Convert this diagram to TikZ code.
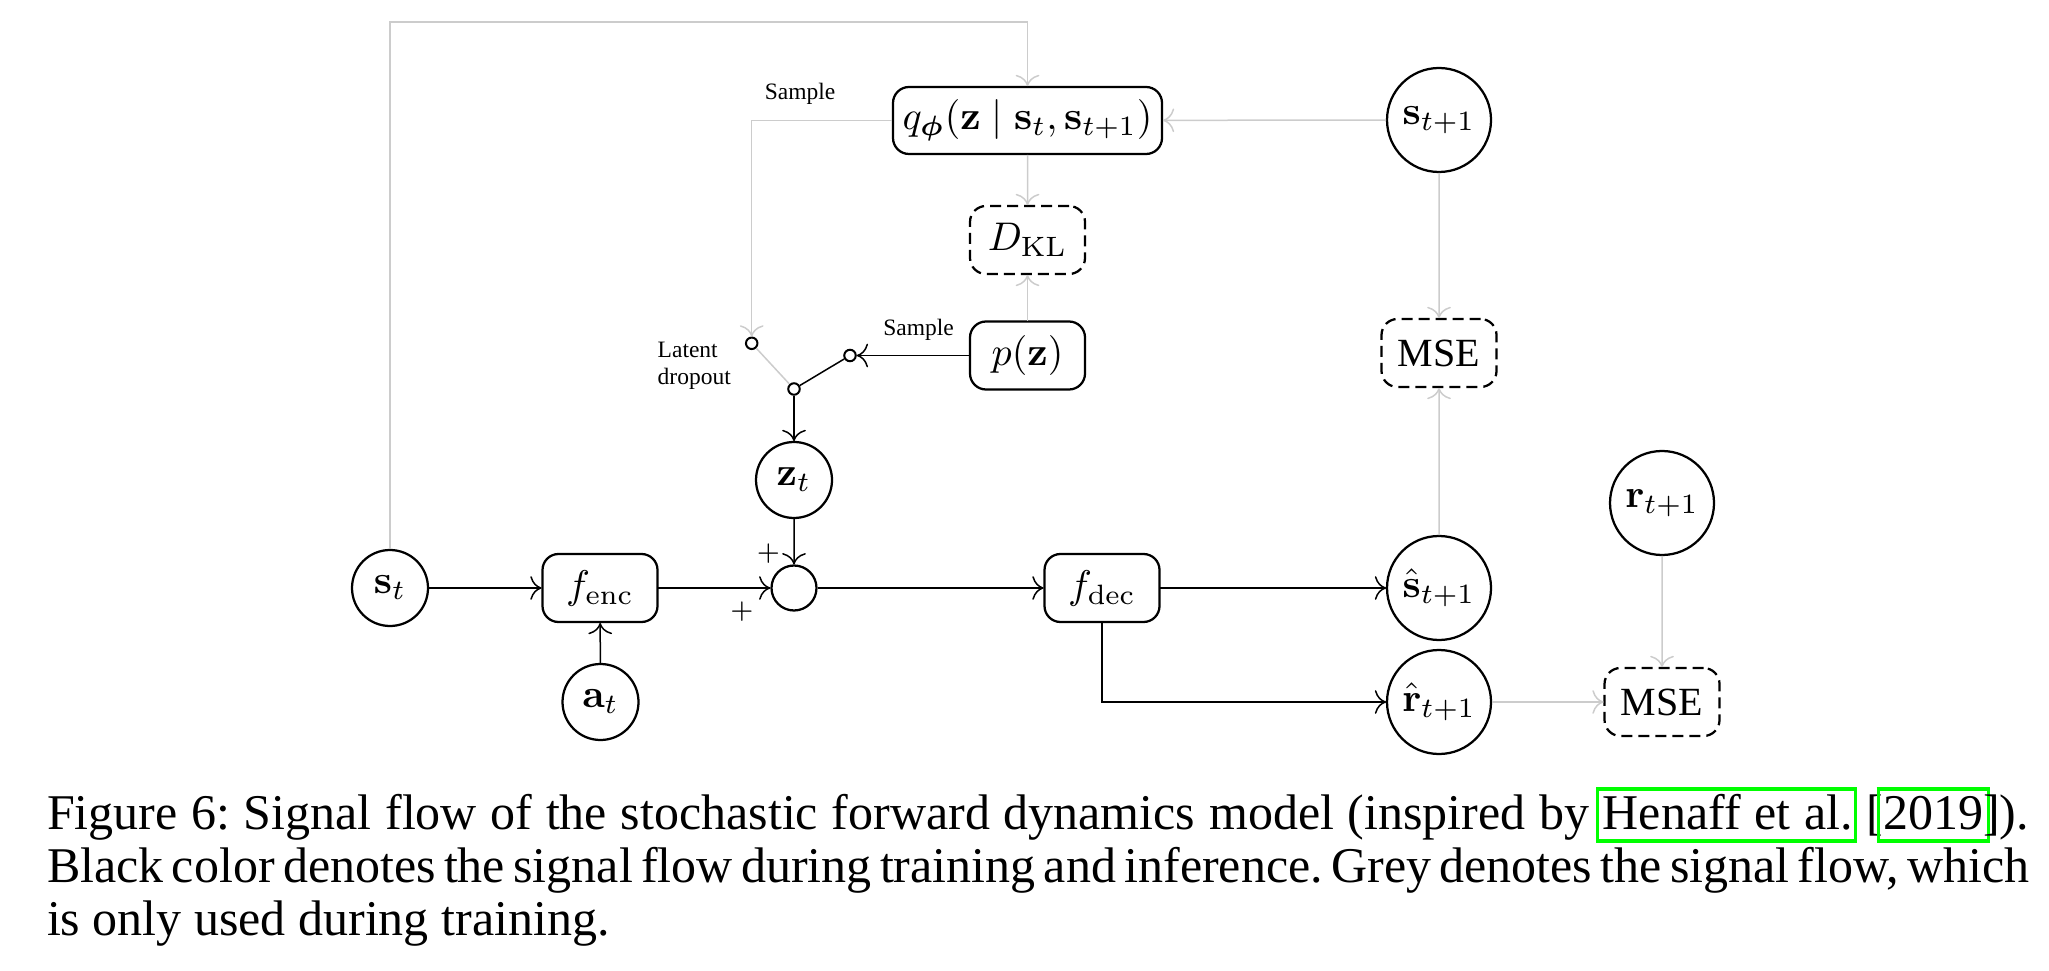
\RequirePackage{fix-cm}
\documentclass[tikz,border=0pt]{standalone}
\usepackage{amsmath}
\usepackage[no-math]{fontspec}
\setmainfont{Liberation Serif}
\usetikzlibrary{arrows.meta}
\definecolor{sig}{gray}{0.8}
\definecolor{linkgreen}{rgb}{0,1,0}
\newcommand\diafont{\fontsize{10}{12}\selectfont}
\newcommand\labfont{\fontsize{4.7}{5.6}\selectfont}
\newcommand\capfont{\fontsize{10}{10.7}\selectfont\frenchspacing\spaceskip=0.25em plus 0.4em minus 0.15em\relax}
\newcommand\lnk[1]{\leavevmode\rlap{\kern-1.33pt\textcolor{linkgreen}{\fboxsep=0pt\fboxrule=0.65pt\fbox{\rule[-2.075pt]{0pt}{9.75pt}\hphantom{#1}\kern1.36pt}}}#1}
\tikzset{
  conn/.style={line width=0.3pt},
  blk/.style={conn, draw=black, ->},
  gry/.style={conn, draw=sig, ->},
  statec/.style={circle, draw, line width=0.45pt, inner sep=0pt, scale=0.8, minimum size=19pt, font=\diafont},
  bigstate/.style={statec, minimum size=26pt},
  sumc/.style={circle, draw, line width=0.45pt, inner sep=0pt, minimum size=9pt},
  blockbox/.style={rectangle, rounded corners=3.2pt, draw, line width=0.45pt, scale=0.8, minimum width=28.75pt, minimum height=17pt, inner sep=1.2pt, font=\diafont},
  lossbox/.style={blockbox, dash pattern=on 2.2pt off 1.2pt},
  swc/.style={circle, draw, line width=0.4pt, inner sep=0pt, minimum size=2.3pt},
  lbl/.style={font=\labfont, inner sep=0pt},
  captext/.style={font=\capfont, inner sep=0pt, anchor=base west},
}
\begin{document}
\begin{tikzpicture}[x=0.2pt, y=-0.2pt]
\useasboundingbox (0,0) rectangle (2049,971);
% nodes
\node[statec] (st) at (390,588) {$\mathbf{s}_t$};
\node[blockbox] (fenc) at (600,588) {$f_{\mathrm{enc}}$};
\node[statec] (at) at (600.5,702) {$\mathbf{a}_t$};
\node[sumc] (sum) at (794,588) {};
\node[statec] (zt) at (794,480) {$\mathbf{z}_t$};
\node[blockbox] (fdec) at (1102,588) {$f_{\mathrm{dec}}$};
\node[bigstate] (shat) at (1439,588) {$\hat{\mathbf{s}}_{t+1}$};
\node[bigstate] (rhat) at (1439,702) {$\hat{\mathbf{r}}_{t+1}$};
\node[lossbox] (mse2) at (1662,702) {MSE};
\node[bigstate] (rt1) at (1662,503) {$\mathbf{r}_{t+1}$};
\node[lossbox] (mse1) at (1439,353) {MSE};
\node[bigstate] (st1) at (1439,120) {$\mathbf{s}_{t+1}$};
\node[blockbox, minimum width=67.25pt, minimum height=16.75pt] (q) at (1027.5,120.5) {$q_{\boldsymbol{\phi}}(\mathbf{z}\mid\mathbf{s}_t,\mathbf{s}_{t+1})$};
\node[lossbox] (dkl) at (1027.5,240) {$D_{\mathrm{KL}}$};
\node[blockbox] (pz) at (1027.5,355.5) {$p(\mathbf{z})$};
\node[swc] (sw1) at (751.7,343.3) {};
\node[swc] (piv) at (794,389) {};
\node[swc] (sw2) at (850,355.5) {};
\coordinate (topc) at (1027.5,22);
% labels
\node[lbl] (samp1) at (800,94) {Sample};
\node[lbl] (samp2) at (918.5,330) {Sample};
\node[lbl, anchor=base west] (lat1) at (656.7,358) {Latent};
\node[lbl, anchor=base west] (lat2) at (656.7,385) {dropout};
\node[lbl] (plus1) at (768.5,554) {$+$};
\node[lbl] (plus2) at (742,612) {$+$};
% black connectors
\draw[blk] (st) -- (fenc);
\draw[blk] (at) -- (fenc);
\draw[blk] (fenc) -- (sum);
\draw[blk] (zt) -- (sum);
\draw[blk] (sum) -- (fdec);
\draw[blk] (fdec) -- (shat);
\draw[blk] (fdec.south) |- (rhat);
\draw[blk] (piv) -- (zt);
\draw[blk] (pz) -- (sw2);
\draw[conn] (piv) -- (sw2);
% grey connectors
\draw[conn, draw=sig] (sw1) -- (piv);
\draw[gry] (st.north) |- (topc) -- (q.north);
\draw[gry] (st1) -- (q);
\draw[gry] (q.west) -| (sw1);
\draw[gry] (q) -- (dkl);
\draw[gry] (pz) -- (dkl);
\draw[gry] (st1) -- (mse1);
\draw[gry] (shat) -- (mse1);
\draw[gry] (rt1) -- (mse2);
\draw[gry] (rhat) -- (mse2);
% caption
\node[captext] (cap1) at (46,829) {\makebox[396.4pt][s]{Figure 6: Signal flow of the stochastic forward dynamics model (inspired by \lnk{Henaff et al.} [\lnk{2019}]).}};
\node[captext] (cap2) at (46,882) {\makebox[396.4pt][s]{Black color denotes the signal flow during training and inference. Grey denotes the signal flow, which}};
\node[captext] (cap3) at (46,935) {is only used during training.};
\end{tikzpicture}
\end{document}
